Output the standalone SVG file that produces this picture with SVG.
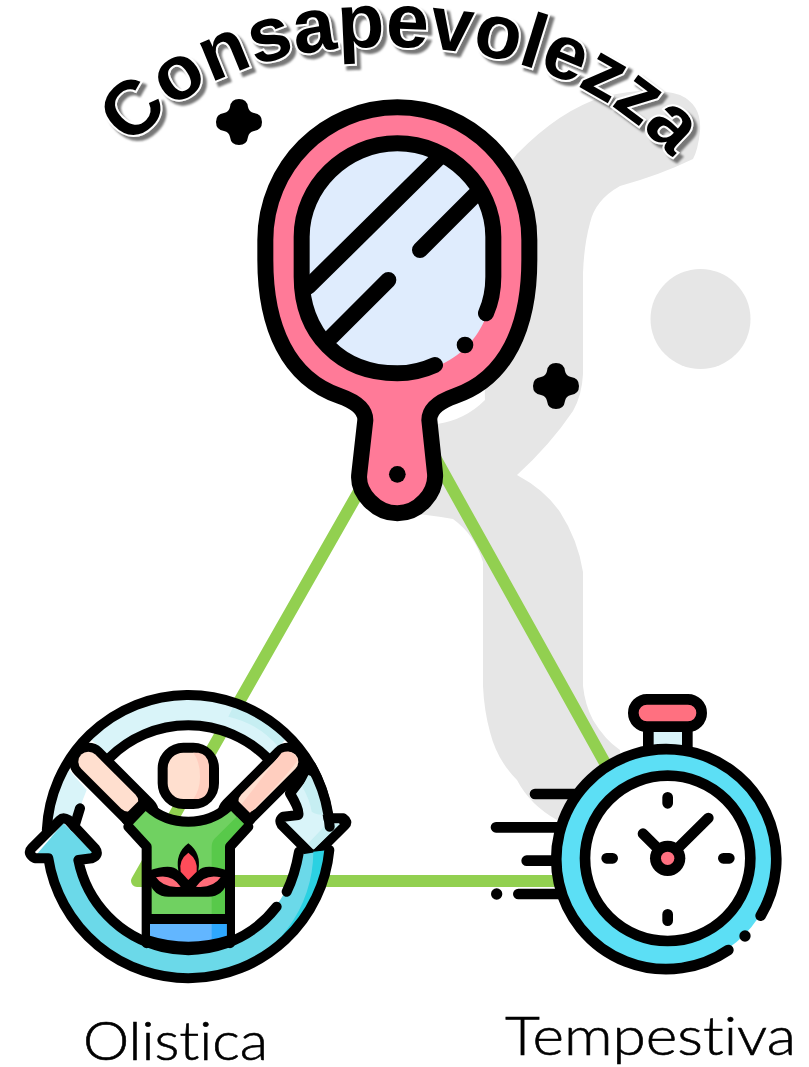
<svg xmlns="http://www.w3.org/2000/svg" width="809" height="1067" viewBox="0 0 809 1067">
<style>
.k{fill:none;stroke:#000;stroke-linecap:round;stroke-linejoin:round}
.m{stroke-width:48}
.s{stroke-width:32}
.o{stroke-width:30}
.lab{font-family:"Lato","Noto Sans",sans-serif;font-size:53px;font-weight:300;fill:#000;stroke:#000;stroke-width:.6px;font-variant-ligatures:none}
.arc{font-family:"Liberation Sans",Arial,sans-serif;font-size:77px;font-weight:700;fill:#000;stroke:#fff;stroke-width:4px;paint-order:stroke}
</style>
<defs>
<path id="spark" d="M0 -23Q8 -23 9 -15Q10 -10 15 -9Q23 -8 23 0Q23 8 15 9Q10 10 9 15Q8 23 0 23Q-8 23 -9 15Q-10 10 -15 9Q-23 8 -23 0Q-23 -8 -15 -9Q-10 -10 -9 -15Q-8 -23 0 -23Z"/>
<path id="tp" d="M132 148C200 60 320 42 420 48C520 54 605 85 672 158"/>
<filter id="sh" x="-5%" y="-20%" width="110%" height="140%"><feDropShadow dx="4" dy="4" stdDeviation="1" flood-color="#777"/></filter>
</defs>
<g id="watermark" fill="#e6e6e6">
<path d="M517 154Q560 110 603 97Q650 85 680 95Q702 105 700 131Q698 150 693 159Q660 175 620 186Q595 200 590 223Q584 245 583 273V374Q582 395 573 411Q550 445 517 475Q545 490 560 512Q578 540 583 572V686Q585 705 593 720Q605 740 620 750L620 800L557 820Q530 805 517 780Q497 760 490 732Q484 710 483 686V562Q475 535 453 519Q430 515 400 512L400 430L437 424Q465 420 485 400L480 200Z"/>
<circle cx="700.500" cy="319" r="50"/>
</g>
<g id="connectors"><path d="M555 881H137L407 407L620 790" fill="none" stroke="#92d050" stroke-width="12" stroke-linejoin="round"/></g>
<g id="sparkles"><use href="#spark" x="239" y="122"/><use href="#spark" x="556" y="386"/></g>
<g id="mirror" transform="translate(240 90) scale(.33333)">
<path class="k m" style="fill:#ff7a98" d="M472 52C690 52 868 230 868 450V510C868 710 800 865 645 918Q568 945 568 990L585 1150C590 1210 535 1270 472 1270C410 1270 350 1210 358 1150L376 990Q376 945 299 918C144 865 76 710 76 510V450C76 230 255 52 472 52Z"/>
<path fill="#dfecfd" d="M472 160C630 160 760 290 760 440V560C760 730 645 850 472 850C300 850 185 730 185 560V440C185 290 315 160 472 160Z"/>
<path class="k m" d="M738 670Q760 620 760 560V440C760 290 630 160 472 160C315 160 185 290 185 440V560C185 730 300 850 472 850Q530 850 585 825"/>
<path class="k m" d="M205 590L600 200M540 480L705 315M445 570L275 740"/>
<circle cx="675" cy="765" r="25"/><circle cx="472" cy="1153" r="25"/>
</g>
<g id="olistica" transform="translate(15 680) scale(.33333)">
<path fill="#d9f4f9" d="M220 170A425 425 0 0 1 820 170L755 232A335 335 0 0 0 285 232Z"/>
<path fill="#c6eef2" d="M660 70A425 425 0 0 1 820 170L790 200Q730 130 640 110Z"/>
<path fill="#d9f4f9" d="M152 258A425 425 0 0 0 95 470L185 470A335 335 0 0 1 215 330Z"/>
<path class="k o" style="fill:#d9f4f9" d="M888 258A425 425 0 0 1 940 415L985 415Q1000 425 990 435L905 520Q895 527 885 520L800 435Q790 420 805 410L850 405Q855 390 825 340Z"/>
<path fill="#c6eef2" d="M862 320Q885 360 890 395Q905 405 930 405L915 300L880 285ZM975 432L897 508L880 490L935 432Z"/>
<path class="k o" d="M95.500 450A425 425 0 0 1 944 440M755 232A335 335 0 0 0 285 232M195 385L178 440"/>
<path fill="#6bd9e9" d="M943 510A425 425 0 0 1 100 535L55 535L145 430L240 520L190 540A336 336 0 0 0 850 525Z"/>
<path fill="#2bd1e2" d="M943 510A425 425 0 0 1 620 883A385 385 0 0 0 895 515Z"/>
<path class="k o" d="M943 510A425 425 0 0 1 100 535L60 535Q35 520 50 505L135 420Q145 410 160 420L240 505Q255 525 230 535L190 540A336 336 0 0 0 785 680M815 635Q840 585 852 515"/>
<path class="k" stroke-width="114" d="M220 245L375 400M820 245L665 400"/>
<path d="M220 245L340 365" fill="none" stroke="#ffdfcf" stroke-width="60" stroke-linecap="round"/>
<path d="M820 245L700 365" fill="none" stroke="#ffdfcf" stroke-width="60" stroke-linecap="round"/>
<path d="M848 240Q815 290 695 408L670 385L800 218Q835 205 848 240Z" fill="#ffcebf"/>
<path fill="#70d161" d="M400 385Q450 425 520 425Q590 425 640 385L690 435L640 490V705H400V490L352 435Z"/>
<path fill="#58c94a" d="M690 435L640 490V705H590V500Q590 485 600 475L665 410Z"/>
<path class="k o" d="M395 790V500L340 440M645 790V500L700 440M400 380Q450 425 520 425Q590 425 640 380M335 420L385 370M705 420L655 370"/>
<path d="M405 730H635V785Q520 810 405 785Z" fill="#62b6ff"/>
<path d="M590 730H635V785L590 795Z" fill="#2ea8ff"/>
<path class="k o" d="M400 717H640M395 780Q520 820 645 780"/>
<path d="M400 572Q470 548 490 572Q480 520 520 490Q560 520 550 572Q570 548 640 572V600Q625 650 580 650H460Q415 650 400 600Z"/>
<path fill="#ff4c5a" d="M520 518Q490 540 497 575L520 600L545 575Q550 540 520 518Z"/>
<path fill="#ff6b78" d="M423 592Q470 580 497 620Q445 625 423 592ZM617 592Q570 580 543 620Q595 625 617 592Z"/>
<rect class="k o" style="fill:#ffdfcf" x="443" y="203" width="154" height="169" rx="62"/>
<path d="M535 218H550Q582 222 582 265V310Q582 352 550 357H535Q555 330 555 290Q555 245 535 218Z" fill="#ffcebf"/>
</g>
<g id="stopwatch" transform="translate(480 680) scale(.33333)">
<path class="k s" d="M165 342H290M48 442H235M140 542H225M115 642H240"/><circle cx="50" cy="642" r="17"/>
<rect class="k s" style="fill:#d9f4f9" x="505" y="140" width="117" height="75"/>
<rect class="k s" style="fill:#ff7080" x="460" y="58" width="205" height="82" rx="41"/>
<circle cx="563" cy="535" r="325" fill="#5cdff5"/>
<path class="k s" d="M745 810A330 330 0 1 1 842 707"/>
<circle cx="795" cy="768" r="17"/>
<circle class="k s" style="fill:#fff" cx="563" cy="535" r="248"/>
<path class="k s" d="M563 352V370M563 703V722M380 535H398M730 535H748M563 535L685 414M563 535L489 461"/>
<circle cx="563" cy="535" r="53"/><circle cx="563" cy="535" r="20" fill="#ff7080"/>
</g>
<g id="title" filter="url(#sh)">
<text class="arc"><textPath href="#tp">Consapevolezza</textPath></text>
</g>
<g id="labels">
<text class="lab" x="83" y="1060" textLength="185" lengthAdjust="spacingAndGlyphs">Olistica</text>
<text class="lab" x="505" y="1055" textLength="291" lengthAdjust="spacingAndGlyphs">Tempestiva</text>
</g>
</svg>
